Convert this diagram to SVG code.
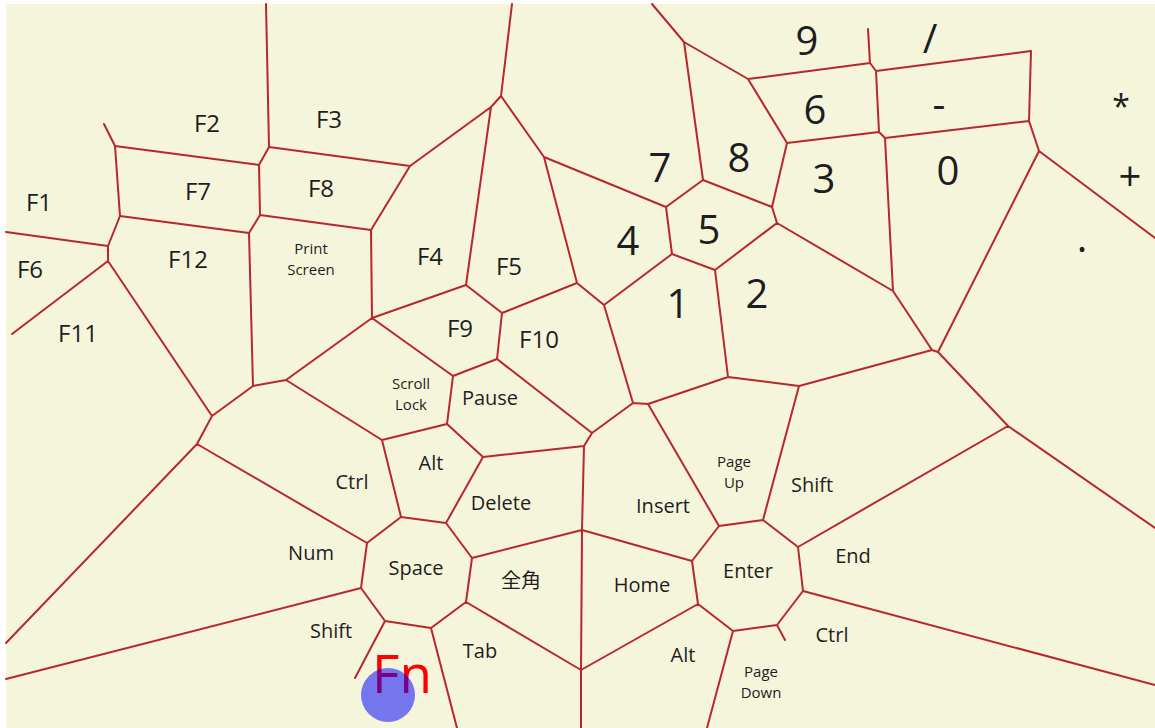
<svg xmlns="http://www.w3.org/2000/svg" width="1155" height="728" viewBox="0 0 1155 728">
<style>
.e{fill:none;stroke:#B8272D;stroke-width:2;stroke-linecap:round}
text{font-family:"Open Sans","Noto Sans","Noto Sans CJK JP",sans-serif;fill:#1e1e1e;text-anchor:middle}
.f{font-size:24px}
.m{font-size:20px}
.s{font-size:15px}
.n{font-size:40px}
</style>
<rect x="0" y="0" width="1155" height="728" fill="#FFFFFF"/>
<rect x="6" y="4" width="1149" height="724" fill="#F5F5DC"/>
<g id="edges">
<path class="e" d="M266 4 L269 147 M269 147 L410 166 M269 147 L259 165 M115 146 L259 165 M104 124 L115 146 M115 146 L120 216 M120 216 L249 233 M259 165 L260 215 M260 215 L249 233 M260 215 L371 230 M371 230 L410 166 M6 232 L108 246 M120 216 L108 246 M108 246 L108 261 M108 261 L12 334 M108 261 L212 416 M249 233 L253 386 M253 386 L286 380 M286 380 L372 318 M372 318 L371 230 M212 416 L253 386 M212 416 L197 444 M197 444 L6 643 M197 444 L367 543 M286 380 L382 440 M367 543 L401 517 M367 543 L361 588 M361 588 L6 679 M361 588 L385 621 M385 621 L355 678 M401 517 L446 523 M446 523 L472 558 M472 558 L466 602 M466 602 L431 628 M431 628 L385 621 M382 440 L401 517 M446 523 L483 457 M472 558 L582 530 M582 530 L584 446 M582 530 L581 670 M581 670 L581 728 M466 602 L581 670 M582 530 L692 561 M692 561 L719 526 M719 526 L763 520 M719 526 L648 404 M692 561 L698 604 M698 604 L581 670 M698 604 L733 631 M733 631 L707 728 M733 631 L777 625 M431 628 L457 728 M798 547 L1008 426 M798 547 L763 520 M798 547 L803 591 M803 591 L1155 685 M803 591 L777 625 M777 625 L785 640 M1008 426 L1155 528 M885 138 L893 291 M893 291 L777 223 M893 291 L932 350 M932 350 L938 352 M938 352 L1039 151 M932 350 L799 386 M799 386 L728 377 M799 386 L763 520 M938 352 L1008 426 M466 285 L372 318 M466 285 L502 313 M502 313 L577 283 M577 283 L544 157 M577 283 L604 305 M604 305 L672 254 M672 254 L666 207 M672 254 L715 270 M715 270 L777 223 M715 270 L728 377 M728 377 L648 404 M648 404 L633 403 M604 305 L633 403 M633 403 L592 433 M592 433 L584 446 M584 446 L483 457 M483 457 L447 424 M447 424 L453 376 M453 376 L372 318 M453 376 L497 359 M497 359 L502 313 M497 359 L592 433 M447 424 L382 440 M512 4 L501 96 M501 96 L491 107 M491 107 L410 166 M491 107 L466 285 M501 96 L544 157 M544 157 L666 207 M666 207 L703 180 M703 180 L684 42 M684 42 L652 4 M684 42 L748 79 M748 79 L870 63 M870 63 L868 29 M870 63 L876 71 M876 71 L1031 51 M1031 51 L1029 121 M1029 121 L1039 151 M1039 151 L1155 238 M876 71 L879 132 M879 132 L885 138 M885 138 L1029 121 M879 132 L787 143 M787 143 L748 79 M787 143 L772 207 M772 207 L703 180 M772 207 L777 223"/>
</g>
<g id="labels">
<text class="f" x="39" y="211">F1</text>
<text class="f" x="207" y="132">F2</text>
<text class="f" x="329" y="128">F3</text>
<text class="f" x="30" y="278">F6</text>
<text class="f" x="198" y="200">F7</text>
<text class="f" x="321" y="197">F8</text>
<text class="f" x="78" y="342">F11</text>
<text class="f" x="188" y="268">F12</text>
<text class="s" x="311" y="254">Print</text>
<text class="s" x="311" y="275">Screen</text>
<text class="f" x="430" y="265">F4</text>
<text class="f" x="509" y="275">F5</text>
<text class="f" x="460" y="337">F9</text>
<text class="f" x="539" y="348">F10</text>
<text class="s" x="411" y="389">Scroll</text>
<text class="s" x="411" y="410">Lock</text>
<text class="m" x="490" y="405">Pause</text>
<text class="m" x="352" y="489">Ctrl</text>
<text class="m" x="431" y="470">Alt</text>
<text class="m" x="501" y="510">Delete</text>
<text class="m" x="311" y="560">Num</text>
<text class="m" x="416" y="575">Space</text>
<text class="m" x="521" y="588">全角</text>
<text class="m" x="331" y="638">Shift</text>
<text class="m" x="480" y="658">Tab</text>
<text class="m" x="663" y="513">Insert</text>
<text class="m" x="642" y="592">Home</text>
<text class="m" x="683" y="662">Alt</text>
<text class="s" x="734" y="467">Page</text>
<text class="s" x="734" y="488">Up</text>
<text class="m" x="812" y="492">Shift</text>
<text class="m" x="748" y="578">Enter</text>
<text class="m" x="853" y="563">End</text>
<text class="m" x="832" y="642">Ctrl</text>
<text class="s" x="761" y="677">Page</text>
<text class="s" x="761" y="698">Down</text>
<text class="n" x="660" y="182">7</text>
<text class="n" x="739" y="172">8</text>
<text class="n" x="807" y="55">9</text>
<text class="n" x="930" y="53">/</text>
<text class="n" x="628" y="255">4</text>
<text class="n" x="709" y="244">5</text>
<text class="n" x="815" y="124">6</text>
<text class="n" x="939" y="118">-</text>
<text x="1121" y="118" style="font-size:32px">*</text>
<text class="n" x="678" y="318">1</text>
<text class="n" x="757" y="308">2</text>
<text class="n" x="824" y="193">3</text>
<text class="n" x="948" y="185">0</text>
<text class="n" x="1130" y="191">+</text>
<text class="n" x="1082" y="252">.</text>
<text x="402" y="693" style="font-size:53px;fill:#FF0000">Fn</text>
<circle cx="388" cy="695" r="27" fill="#0000FF" fill-opacity="0.52"/>
</g>
</svg>
